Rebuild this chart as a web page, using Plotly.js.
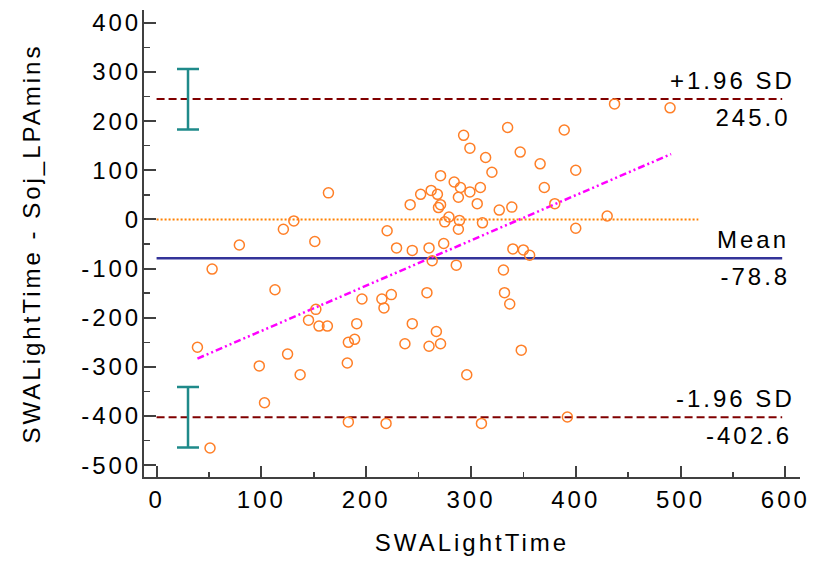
<!DOCTYPE html>
<html>
<head>
<meta charset="utf-8">
<script src="https://cdn.plot.ly/plotly-3.0.1.min.js"></script>
<style>
  html, body { margin: 0; padding: 0; background: #ffffff; }
  #chart { width: 819px; height: 563px; }
  #chart .main-svg text { letter-spacing: 3px; }
</style>
</head>
<body>
<div id="chart"></div>
<script>
// Bland-Altman data: x = SWALightTime (mean), y = difference SWALightTime - Soj_LPAmins
const swaLightTime = [
  164, 131, 121, 79, 151, 335, 389, 293, 299, 314,
  347, 366, 320, 400, 271, 284, 290, 309, 370, 262,
  252, 268, 299, 288, 242, 306, 271, 269, 327, 339,
  380, 279, 275, 289, 311, 288, 400, 220, 229, 244,
  260, 274, 340, 350, 356, 437, 490, 430, 53, 113,
  196, 215, 217, 224, 152, 145, 155, 163, 191, 189,
  183, 39, 125, 182, 98, 137, 103, 183, 51, 263,
  286, 331, 258, 332, 337, 244, 267, 237, 260, 271,
  348, 296, 219, 310, 392
];
const difference = [
  54, -3, -20, -52, -45, 187, 182, 171, 145, 126,
  137, 113, 96, 100, 89, 76, 65, 65, 65, 59,
  51, 51, 56, 45, 30, 32, 30, 24, 19, 25,
  32, 5, -5, -2, -7, -20, -18, -23, -58, -63,
  -58, -49, -60, -62, -73, 235, 227, 7, -101, -143,
  -162, -162, -180, -153, -183, -205, -217, -217, -212, -244,
  -250, -260, -274, -292, -298, -316, -373, -412, -465, -84,
  -93, -103, -149, -149, -172, -212, -228, -253, -258, -253,
  -266, -316, -415, -415, -402
];

// Limits of agreement
const limitLabels = ['+1.96 SD', 'Mean', '-1.96 SD'];
const limitValues = [245.0, -78.8, -402.6];
const limitColors = ['#800000', '#333399', '#800000'];
const limitDash = ['8px,4px', 'solid', '8px,4px'];
const limitSpan = [0, 597];

// Confidence intervals of the limits of agreement
const ciX = [30, 30];
const ciCenter = [245.0, -402.6];
const ciUpper = [306, -341];
const ciLower = [183, -464];

// Line of equality (zero) and regression line
const zeroSpan = [0, 517];
const zeroValue = [0, 0];
const regX = [39, 491];
const regY = [-283, 133];

// Axis ticks
const xTicks = [0, 100, 200, 300, 400, 500, 600];
const xTickText = ['0', '100', '200', '300', '400', '500', '600'];
const yTicks = [400, 300, 200, 100, 0, -100, -200, -300, -400, -500];
const yTickText = ['400', '300', '200', '100', '0', '-100', '-200', '-300', '-400', '-500'];

const traces = [];

// zero line
traces.push({
  type: 'scatter', mode: 'lines', x: zeroSpan, y: zeroValue,
  line: { color: '#ff8000', width: 2, dash: '2px,2px' }, hoverinfo: 'skip'
});

// limit lines
limitValues.forEach((v, i) => {
  traces.push({
    type: 'scatter', mode: 'lines', x: limitSpan, y: [v, v],
    line: { color: limitColors[i], width: i === 1 ? 2.5 : 2, dash: limitDash[i] },
    hoverinfo: 'skip'
  });
});

// regression line
traces.push({
  type: 'scatter', mode: 'lines', x: regX, y: regY,
  line: { color: '#ff00ff', width: 2.5, dash: '7px,3px,2px,3px,2px,3px' },
  hoverinfo: 'skip'
});

// CI error bars
traces.push({
  type: 'scatter', mode: 'markers', x: ciX, y: ciCenter,
  marker: { size: 1, color: 'rgba(0,0,0,0)' },
  error_y: {
    type: 'data', symmetric: false,
    array: ciUpper.map((u, i) => u - ciCenter[i]),
    arrayminus: ciLower.map((l, i) => ciCenter[i] - l),
    color: '#1f8a8a', thickness: 2.5, width: 11
  },
  hoverinfo: 'skip'
});

// data points
traces.push({
  type: 'scatter', mode: 'markers', x: swaLightTime, y: difference,
  marker: { symbol: 'circle-open', size: 10, color: '#ff7f27', line: { width: 1.5, color: '#ff7f27' } }
});

const fontFam = '"Liberation Sans", Arial, sans-serif';
const fs = 24;

const annotations = [];
limitValues.forEach((v, i) => {
  annotations.push({
    x: limitSpan[1], y: v, xref: 'x', yref: 'y',
    text: limitLabels[i], showarrow: false,
    xanchor: 'right', yanchor: 'bottom', yshift: 3, xshift: 3,
    font: { family: fontFam, size: fs, color: '#000000' }
  });
  annotations.push({
    x: limitSpan[1], y: v, xref: 'x', yref: 'y',
    text: v.toFixed(1), showarrow: false,
    xanchor: 'right', yanchor: 'top', yshift: -3, xshift: 3,
    font: { family: fontFam, size: fs, color: '#000000' }
  });
});

const layout = {
  width: 819, height: 563,
  margin: { l: 144, r: 19, t: 10, b: 86 },
  paper_bgcolor: '#ffffff', plot_bgcolor: '#ffffff',
  showlegend: false,
  font: { family: fontFam, size: fs, color: '#000000' },
  xaxis: {
    range: [-12, 614], showgrid: false, zeroline: false,
    showline: true, linecolor: '#404040', linewidth: 2,
    ticks: 'inside', ticklen: 11, tickwidth: 2, tickcolor: '#404040',
    tickmode: 'array', tickvals: xTicks, ticktext: xTickText,
    minor: { ticks: 'inside', ticklen: 5, tickwidth: 1.5, tickcolor: '#404040', dtick: 50, tick0: 0, showgrid: false },
    tickfont: { family: fontFam, size: fs, color: '#000000' },
    title: { text: 'SWALightTime', font: { family: fontFam, size: fs, color: '#000000' }, standoff: 22 }
  },
  yaxis: {
    range: [-524, 426], showgrid: false, zeroline: false,
    showline: true, linecolor: '#404040', linewidth: 2,
    ticks: 'inside', ticklen: 12, tickwidth: 2, tickcolor: '#404040',
    tickmode: 'array', tickvals: yTicks, ticktext: yTickText,
    ticklabelstandoff: -4,
    minor: { ticks: 'inside', ticklen: 6, tickwidth: 1.5, tickcolor: '#404040', dtick: 50, tick0: 0, showgrid: false },
    tickfont: { family: fontFam, size: fs, color: '#000000' },
    title: { text: 'SWALightTime - Soj_LPAmins', font: { family: fontFam, size: fs, color: '#000000' }, standoff: 46 }
  },
  annotations: annotations
};

Plotly.newPlot('chart', traces, layout, { staticPlot: true, displayModeBar: false });
</script>
</body>
</html>
